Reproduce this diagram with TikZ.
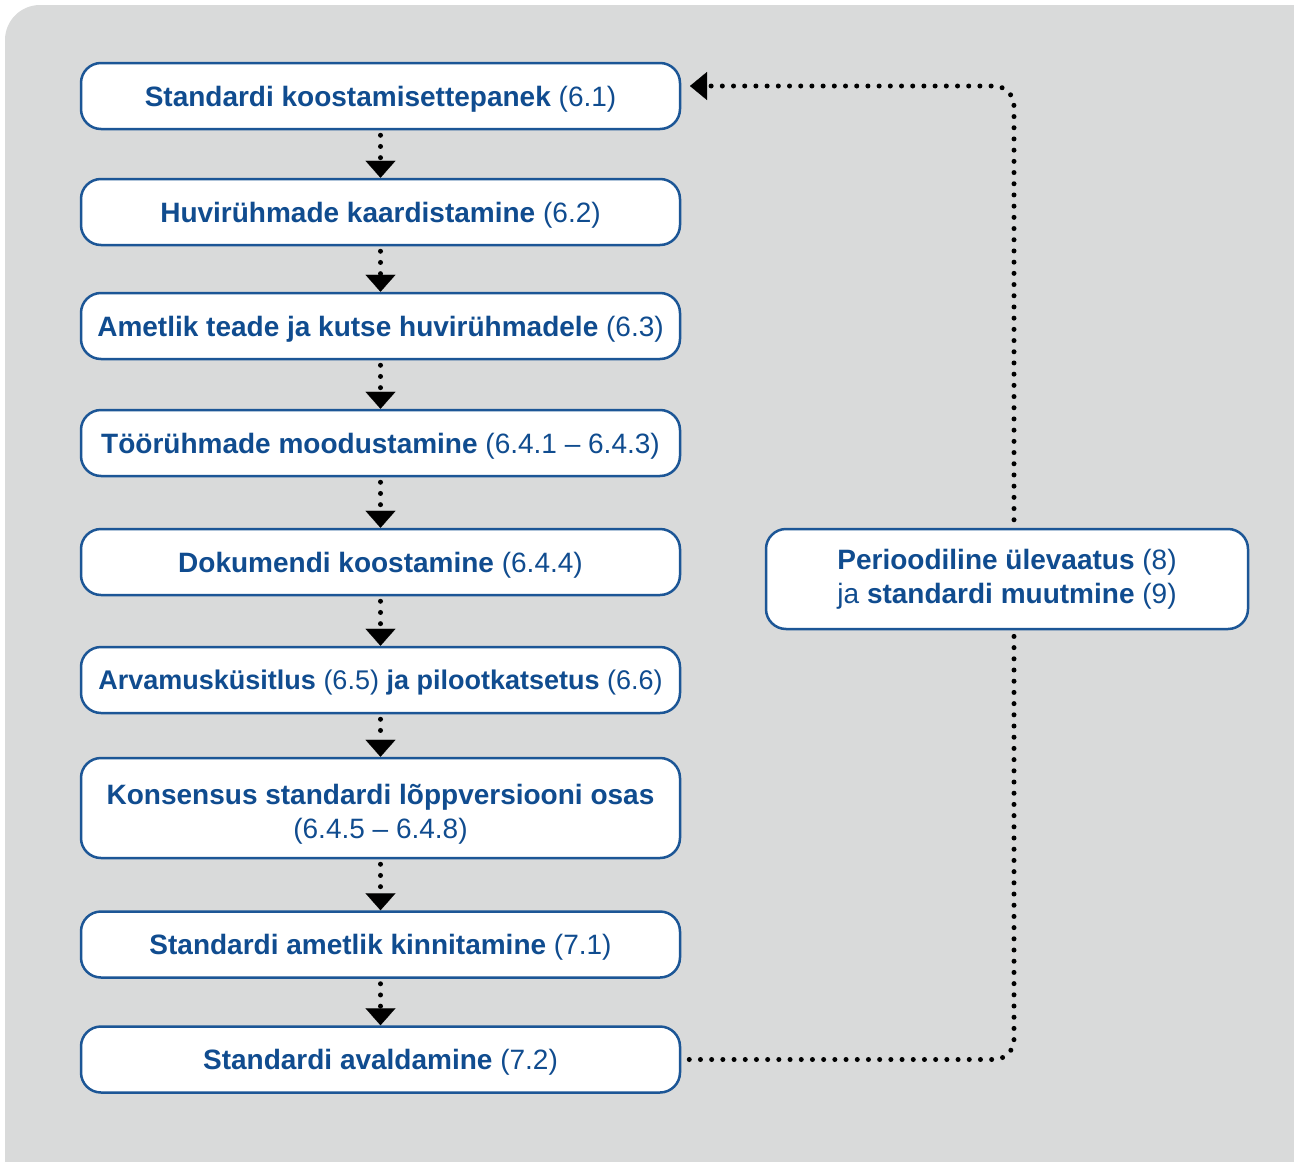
\documentclass[tikz,border=0pt]{standalone}
\usepackage{fontspec}
\setmainfont{Liberation Sans}
\usetikzlibrary{arrows.meta}
\definecolor{bg}{RGB}{217,218,218}
\definecolor{tblue}{RGB}{16,76,143}
\definecolor{bblue}{RGB}{28,86,150}
\begin{document}
\begin{tikzpicture}[x=1pt,y=-1pt,
  box/.style={draw=bblue, line width=2.5pt, fill=white, rounded corners=20pt,
    minimum width=599pt, minimum height=66pt, align=center, text=tblue,
    font=\fontsize{28}{34}\selectfont, inner sep=0pt},
  onebox/.style={box, text height=20pt, text depth=0pt},
  dotline/.style={line width=5pt, dash pattern=on 0pt off 11.2pt, line cap=round},
  flow/.style={dotline, shorten <=5pt, -{Triangle[width=30pt,length=17pt,line width=0.1pt]}},
  loopline/.style={dotline, rounded corners=20pt, shorten <=8pt},
  loopend/.style={-{Triangle[width=28pt,length=17pt,line width=0.1pt]}}
]
\useasboundingbox (0,0) rectangle (1294,1162);
\clip (0,0) rectangle (1294,1162);
\fill[bg, rounded corners=35pt] (5,5) rectangle (1330,1195);

\node[onebox] (b1) at (380.5,96) {\textbf{Standardi koostamisettepanek} (6.1)};
\node[onebox] (b2) at (380.5,212) {\textbf{Huvirühmade kaardistamine} (6.2)};
\node[onebox] (b3) at (380.5,326) {\textbf{Ametlik teade ja kutse huvirühmadele} (6.3)};
\node[onebox] (b4) at (380.5,443) {\textbf{Töörühmade moodustamine} (6.4.1 – 6.4.3)};
\node[onebox] (b5) at (380.5,562) {\textbf{Dokumendi koostamine} (6.4.4)};
\node[onebox, font=\fontsize{27}{34}\selectfont, text height=19.3pt] (b6) at (380.5,680) {\textbf{Arvamusküsitlus} (6.5) \textbf{ja pilootkatsetus} (6.6)};
\node[box, minimum height=100pt] (b7) at (380.5,808) {\rule{0pt}{32pt}\textbf{Konsensus standardi lõppversiooni osas}\\(6.4.5 – 6.4.8)};
\node[onebox] (b8) at (380.5,944.5) {\textbf{Standardi ametlik kinnitamine} (7.1)};
\node[onebox] (b9) at (380.5,1059.5) {\textbf{Standardi avaldamine} (7.2)};
\node[box, minimum width=482pt, minimum height=100pt] (r) at (1007,579)
  {\textbf{Perioodiline ülevaatus} (8)\\ja \textbf{standardi muutmine} (9)};

\foreach \a/\b in {b1/b2,b2/b3,b3/b4,b4/b5,b5/b6,b6/b7,b7/b8,b8/b9}
  \draw[flow] (\a.south) -- (\b.north);

\coordinate (cb) at (1014,1059.5);
\coordinate (ct) at (1014,86);
\coordinate (tip) at (690,86);
\draw[loopline] (b9.east) -- (cb) -- (r.south -| cb);
\draw[loopline, loopend] (r.north -| cb) -- (ct) -- (tip);
\end{tikzpicture}
\end{document}
